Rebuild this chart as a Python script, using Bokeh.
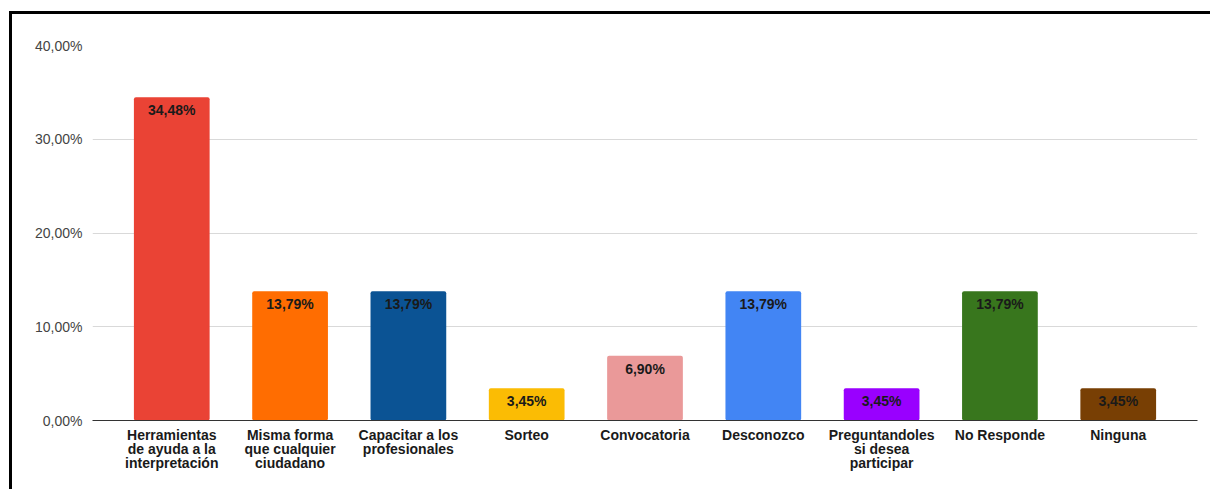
from bokeh.plotting import figure
from bokeh.models import ColumnDataSource, FactorRange, FixedTicker
from bokeh.embed import file_html
from bokeh.resources import INLINE
from bokeh.core.properties import value

categories = ["Herramientas\nde ayuda a la\ninterpretación",
              "Misma forma\nque cualquier\nciudadano",
              "Capacitar a los\nprofesionales",
              "Sorteo",
              "Convocatoria",
              "Desconozco",
              "Preguntandoles\nsi desea\nparticipar",
              "No Responde",
              "Ninguna"]
values = [34.48, 13.79, 13.79, 3.45, 6.90, 13.79, 3.45, 13.79, 3.45]
value_labels = ["34,48%", "13,79%", "13,79%", "3,45%", "6,90%", "13,79%", "3,45%", "13,79%", "3,45%"]
colors = ["#EA4335", "#FF6D01", "#0B5394", "#FBBC04", "#EA9999",
          "#4285F4", "#9900FF", "#38761D", "#783F04"]
y_ticks = [0, 10, 20, 30, 40]
y_tick_labels = ["0,00%", "10,00%", "20,00%", "30,00%", "40,00%"]

src = ColumnDataSource(dict(cat=categories, val=values, lab=value_labels, col=colors))

FONT = "Liberation Sans"

p = figure(x_range=FactorRange(factors=categories, range_padding=0.17, range_padding_units="absolute"),
           y_range=(0, 40), width=1201, height=478,
           output_backend="svg", toolbar_location=None,
           min_border_left=80, min_border_right=16, min_border_top=31, min_border_bottom=72)
p.margin = (11, 0, 0, 9)
p.styles = {"border-top": "3px solid black", "border-left": "3px solid black"}

p.vbar(x="cat", top="val", width=0.64, fill_color="col", line_color=None, source=src,
       border_radius=2)
p.text(x="cat", y="val", text="lab", source=src, text_align="center", text_baseline="top",
       y_offset=5, text_font=value(FONT), text_font_style="bold", text_font_size="14px",
       text_color="#1a1a1a")

p.outline_line_color = None
p.background_fill_color = "white"
p.border_fill_color = "white"

p.xgrid.grid_line_color = None
p.ygrid.grid_line_color = "#d9d9d9"
p.ygrid.grid_line_width = 1
p.ygrid.ticker = FixedTicker(ticks=y_ticks)

ya = p.yaxis[0]
ya.ticker = FixedTicker(ticks=y_ticks)
ya.major_label_overrides = {t: l for t, l in zip(y_ticks, y_tick_labels)}
ya.axis_line_color = None
ya.major_tick_line_color = None
ya.minor_tick_line_color = None
ya.major_label_standoff = 4
ya.major_label_text_font = FONT
ya.major_label_text_font_size = "14px"
ya.major_label_text_color = "#444444"

xa = p.xaxis[0]
xa.axis_line_color = "#333333"
xa.axis_line_width = 1
xa.major_tick_line_color = None
xa.minor_tick_line_color = None
xa.major_label_standoff = 0
xa.major_label_text_font = FONT
xa.major_label_text_font_style = "bold"
xa.major_label_text_font_size = "14px"
xa.major_label_text_color = "#1a1a1a"
xa.major_label_text_line_height = 0.9
xa.major_label_orientation = "horizontal"

open("out.html", "w").write(file_html(p, INLINE))
